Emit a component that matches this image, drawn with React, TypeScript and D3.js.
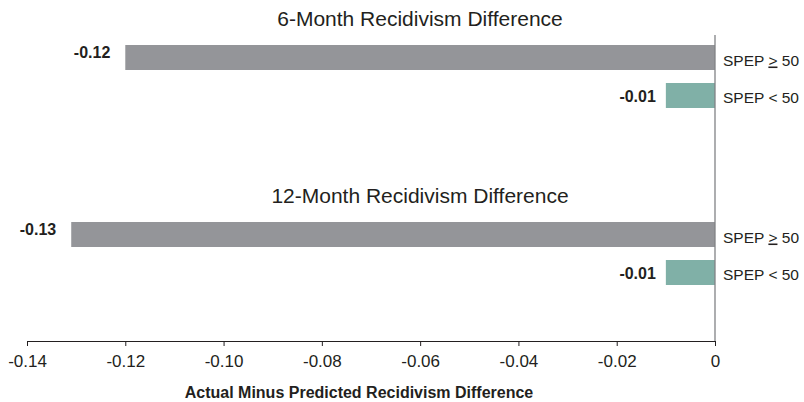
import { useEffect, useRef } from "react"
import * as d3 from "d3"

const groups = ["6-Month Recidivism Difference", "12-Month Recidivism Difference"]
const categories = ["SPEP ≥ 50", "SPEP < 50"]
const values6 = [-0.12, -0.01]
const values12 = [-0.131, -0.01]
const valueLabels6 = ["-0.12", "-0.01"]
const valueLabels12 = ["-0.13", "-0.01"]
const xTicks = [-0.14, -0.12, -0.1, -0.08, -0.06, -0.04, -0.02, 0]
const colors = ["#949599", "#80b0a7"]

const W = 804
const H = 402
const FONT = "Liberation Sans, Arial, Helvetica, sans-serif"
const INK = "#231f20"

export default function App() {
  const svgRef = useRef<SVGSVGElement>(null)

  useEffect(() => {
    const svg = d3.select(svgRef.current!)
    svg.selectAll("*").remove()

    const x = d3.scaleLinear().domain([-0.14, 0]).range([27, 715])
    const axisY = 341

    // outer band: one slot per group, inner band: one row per category
    const gy = d3.scaleBand<string>().domain(groups).range([0, 354])
    const iy = d3.scaleBand<string>().domain(categories).range([45, 108]).paddingInner(0.342)

    const series = [
      { values: values6, labels: valueLabels6 },
      { values: values12, labels: valueLabels12 },
    ]

    groups.forEach((g, gi) => {
      const g0 = gy(g)!
      const layer = svg.append("g").attr("transform", `translate(0,${g0})`)

      layer
        .append("text")
        .attr("x", 420)
        .attr("y", 26)
        .attr("text-anchor", "middle")
        .attr("font-family", FONT)
        .attr("font-size", 21)
        .attr("fill", INK)
        .text(g)

      categories.forEach((c, ci) => {
        const v = series[gi].values[ci]
        const y0 = iy(c)!
        const bw = iy.bandwidth()
        layer
          .append("rect")
          .attr("x", x(v))
          .attr("y", y0)
          .attr("width", x(0) - x(v))
          .attr("height", bw)
          .attr("fill", colors[ci])

        layer
          .append("text")
          .attr("x", x(v) - (ci === 0 ? 15 : 10))
          .attr("y", ci === 0 ? y0 + 12.5 : y0 + 19.5)
          .attr("text-anchor", "end")
          .attr("font-family", FONT)
          .attr("font-weight", "bold")
          .attr("font-size", 16)
          .attr("fill", INK)
          .text(series[gi].labels[ci])

        // category label; "≥" drawn as an underlined ">" like the source
        const t = layer
          .append("text")
          .attr("x", x(0) + 8)
          .attr("y", y0 + 20.5)
          .attr("font-family", FONT)
          .attr("font-size", 15.5)
          .attr("fill", INK)
        const parts = c.split("≥")
        if (parts.length === 2) {
          t.append("tspan").text(parts[0])
          t.append("tspan").attr("text-decoration", "underline").text(">")
          t.append("tspan").text(parts[1])
        } else {
          t.text(c)
        }
      })
    })

    // vertical zero line
    svg
      .append("line")
      .attr("x1", x(0))
      .attr("x2", x(0))
      .attr("y1", 35)
      .attr("y2", axisY)
      .attr("stroke", "#808285")
      .attr("stroke-width", 1.3)

    const axis = d3
      .axisBottom(x)
      .tickValues(xTicks)
      .tickSize(5)
      .tickSizeOuter(0)
      .tickFormat((d) => (d === 0 ? "0" : d3.format(".2f")(d as number).replace("−", "-")))

    const ax = svg.append("g").attr("transform", `translate(0,${axisY})`).call(axis)
    ax.select(".domain").attr("stroke", INK)
    ax.selectAll(".tick line").attr("stroke", INK)
    ax.selectAll(".tick text")
      .attr("dy", 0)
      .attr("y", 26)
      .attr("font-family", FONT)
      .attr("font-size", 17)
      .attr("fill", INK)

    svg
      .append("text")
      .attr("x", 359)
      .attr("y", 398)
      .attr("text-anchor", "middle")
      .attr("font-family", FONT)
      .attr("font-weight", "bold")
      .attr("font-size", 16)
      .attr("fill", INK)
      .text("Actual Minus Predicted Recidivism Difference")
  }, [])

  return (
    <svg
      ref={svgRef}
      width={W}
      height={H}
      style={{ position: "absolute", left: 0, top: 0, background: "#fff" }}
    />
  )
}
